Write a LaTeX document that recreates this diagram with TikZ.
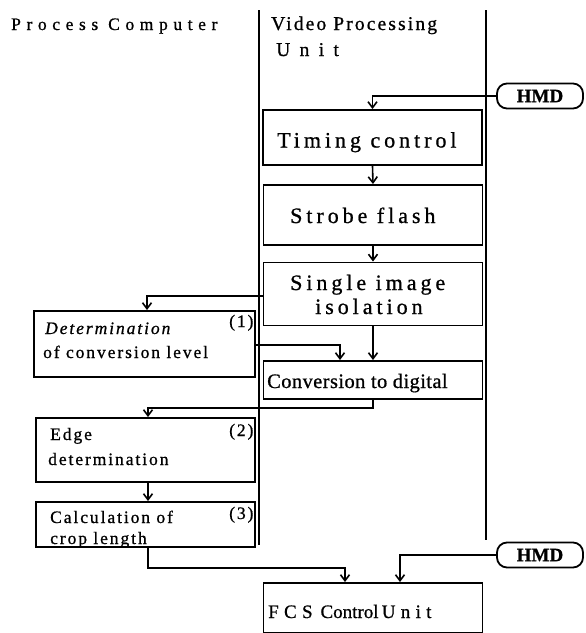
\documentclass[tikz,border=0pt]{standalone}
\usepackage{fontspec}
\setmainfont{Liberation Serif}[FakeBold=0.8]
\newfontfamily\spcA{Liberation Serif}[LetterSpace=32,FakeBold=0.8]
\newfontfamily\spcB{Liberation Serif}[LetterSpace=11,FakeBold=0.8]
\newfontfamily\spcC{Liberation Serif}[LetterSpace=18,FakeBold=0.8]
\newfontfamily\spcD{Liberation Serif}[LetterSpace=11,FakeBold=0.8]
\newfontfamily\spcE{Liberation Serif}[LetterSpace=48,FakeBold=0.8]
\newfontfamily\spcF{Liberation Serif}[LetterSpace=2,FakeBold=0.8]
\newfontfamily\spcG{Liberation Serif}[LetterSpace=28,FakeBold=0.8]
\usetikzlibrary{arrows.meta}
\begin{document}
\begin{tikzpicture}[x=1pt,y=-1pt,
  box/.style={draw,rectangle,inner sep=0pt,line width=1.9pt},
  hmd/.style={draw,rectangle,rounded corners=10pt,inner sep=0pt,minimum width=86pt,minimum height=25pt,font=\fontsize{19}{19}\selectfont\bfseries,line width=1.8pt},
  flow/.style={line width=1.6pt,-{Straight Barb[length=6pt,width=9pt,line width=1.6pt]}},
  lane/.style={line width=1.7pt},
  txt/.style={inner sep=0pt,anchor=base west,font=\fontsize{17.5}{17.5}\selectfont\spcD},
  big/.style={inner sep=0pt,anchor=base west,font=\fontsize{22}{22}\selectfont\spcC}
]
\useasboundingbox (0,0) rectangle (586,633);
% lanes
\coordinate (l1t) at (259,10); \coordinate (l1b) at (259,545);
\coordinate (l2t) at (486,10); \coordinate (l2b) at (486,540);
\draw[lane] (l1t) -- (l1b);
\draw[lane] (l2t) -- (l2b);
% headers
\node[inner sep=0pt,anchor=base west,font=\fontsize{17.5}{17.5}\selectfont\spcA] (hpc) at (11,30) {Process Computer};
\node[inner sep=0pt,anchor=base west,font=\fontsize{19.5}{19.5}\selectfont\spcB] (hvp) at (271,30) {Video Processing};
\node[inner sep=0pt,anchor=base west,font=\fontsize{19.5}{19.5}\selectfont\spcE] (hvu) at (276,56) {Unit};
% HMD
\node[hmd] (hmd1) at (540,96) {HMD};
\node[hmd] (hmd2) at (540,555) {HMD};
% VPU boxes
\node[box,minimum width=219pt,minimum height=55pt] (tim) at (372.5,137.5) {};
\node[big] (timt) at (277,147.5) {Timing control};
\node[box,minimum width=219pt,minimum height=60pt] (stb) at (373,215) {};
\node[big] (stbt) at (290,223) {Strobe flash};
\node[box,minimum width=219pt,minimum height=63pt] (sgl) at (373,294) {};
\node[big] (sglt) at (290,290) {Single image};
\node[big] (sglt2) at (315,314) {isolation};
\node[box,minimum width=219pt,minimum height=38pt] (cnv) at (373,380) {};
\node[inner sep=0pt,anchor=base west,font=\fontsize{20.5}{20.5}\selectfont\spcF] (cnvt) at (267,388) {Conversion to digital};
% Process computer boxes
\node[box,minimum width=221pt,minimum height=66pt] (det) at (144.5,344) {};
\node[txt,font=\fontsize{17.5}{17.5}\selectfont\spcD\itshape] (dett) at (45,334) {Determination};
\node[txt] (dett2) at (43,358) {of conversion level};
\node[txt] (detn) at (229,327) {(1)};
\node[box,minimum width=219pt,minimum height=64pt] (edg) at (145.5,450) {};
\node[txt] (edgt) at (50,440) {Edge};
\node[txt] (edgt2) at (48,465) {determination};
\node[txt] (edgn) at (229,436) {(2)};
\node[box,minimum width=219pt,minimum height=45pt] (clc) at (145.5,524.5) {};
\node[txt] (clct) at (50,523) {Calculation of};
\node[txt] (clct2) at (50,544) {crop length};
\node[txt] (clcn) at (229,519) {(3)};
% FCS
\node[box,minimum width=219pt,minimum height=50pt] (fcs) at (373,608) {};
\node[inner sep=0pt,anchor=base west,font=\fontsize{19}{19}\selectfont] (fcst) at (268,618) {{\spcG FCS} \,Control\,{\spcG Unit}};
% connectors
\draw[flow] (hmd1.west) -| (tim.north);
\draw[flow] (tim.south) -- (stb.north);
\draw[flow] (stb.south) -- (sgl.north);
\draw[flow] (sgl.south) -- (cnv.north);
\draw[flow] ([yshift=-2pt]sgl.west) -| ([xshift=2.5pt]det.north);
\draw[flow] ([yshift=-1pt]det.east) -| ([xshift=-33pt]cnv.north);
\draw[flow] (cnv.south) -- ++(0,8) -| ([xshift=2.5pt]edg.north);
\draw[flow] ([xshift=2.5pt]edg.south) -- ([xshift=2.5pt]clc.north);
\draw[flow] ([xshift=2.5pt]clc.south) -- ++(0,20) -| ([xshift=-28pt]fcs.north);
\draw[flow] (hmd2.west) -| ([xshift=27pt]fcs.north);
\end{tikzpicture}
\end{document}
